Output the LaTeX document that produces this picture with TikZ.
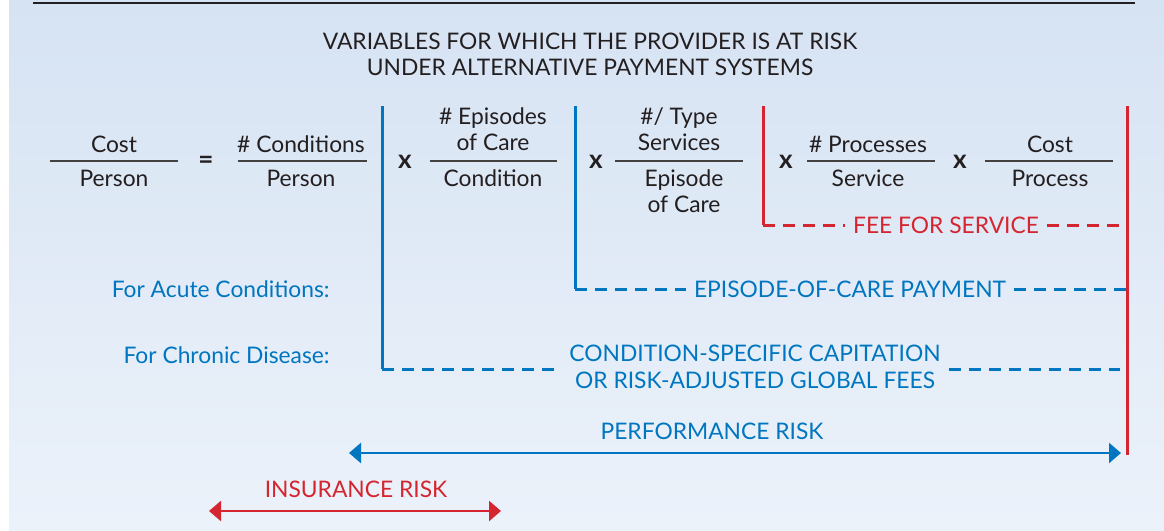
\documentclass[tikz,border=0pt]{standalone}
\usepackage{fontspec}
\setmainfont{Lato}
\usetikzlibrary{arrows.meta}

\definecolor{riskblue}{RGB}{0,118,192}
\definecolor{riskred}{RGB}{213,37,48}
\definecolor{ink}{RGB}{35,31,32}
\definecolor{paneltop}{RGB}{214,227,243}
\definecolor{panelbot}{RGB}{236,242,250}

\tikzset{
  txt/.style={font=\fontsize{11.4}{13.5}\selectfont, text=ink, inner sep=0pt},
  optxt/.style={txt, font=\fontsize{13}{13.5}\selectfont\bfseries},
  bluelab/.style={txt, text=riskblue, align=center, inner xsep=4pt},
  redlab/.style={txt, text=riskred, align=center, inner xsep=4pt},
  bar/.style={draw=ink!85, line width=1pt},
  bluerule/.style={draw=riskblue, line width=1.5pt},
  bluedash/.style={bluerule, dash pattern=on 6pt off 4pt},
  redrule/.style={draw=riskred, line width=1.5pt},
  reddash/.style={redrule, dash pattern=on 6pt off 4pt},
  riskarrow/.style={line width=1.3pt, {Triangle[length=6pt,width=10pt]}-{Triangle[length=6pt,width=10pt]}}
}

\begin{document}
\begin{tikzpicture}[x=0.5pt,y=-0.5pt]
	\useasboundingbox (0,0) rectangle (1164,531);
	\shade[top color=paneltop, bottom color=panelbot] (9,0) rectangle (1164,531);
	\draw[ink, line width=0.8pt] (33,3) -- (1135,3);
%title
	\node[txt, anchor=base] (title1) at (590,49) {VARIABLES FOR WHICH THE PROVIDER IS AT RISK};
	\node[txt, anchor=base] (title2) at (590,75) {UNDER ALTERNATIVE PAYMENT SYSTEMS};
%the product of ratios
	\node[txt, anchor=base] (costN) at (114,152) {Cost};
	\node[txt, anchor=base] (costD) at (114,186) {Person};
	\draw[bar] (50,161) -- (178,161);
	\node[optxt] (eq) at (206,162) {=};
	\node[txt, anchor=base] (condN) at (301,152) {\# Conditions};
	\node[txt, anchor=base] (condD) at (301,186) {Person};
	\draw[bar] (238,161) -- (367,161);
	\node[optxt] (times1) at (405,162) {x};
	\node[txt, anchor=base] (epiN1) at (493,124) {\# Episodes};
	\node[txt, anchor=base] (epiN2) at (493,150) {of Care};
	\node[txt, anchor=base] (epiD) at (493,186) {Condition};
	\draw[bar] (430,161) -- (557,161);
	\node[optxt] (times2) at (596,162) {x};
	\node[txt, anchor=base] (servN1) at (679,124) {\#/ Type};
	\node[txt, anchor=base] (servN2) at (679,150) {Services};
	\node[txt, anchor=base] (servD1) at (684,186) {Episode};
	\node[txt, anchor=base] (servD2) at (684,212) {of Care};
	\draw[bar] (615,161) -- (743,161);
	\node[optxt] (times3) at (786,162) {x};
	\node[txt, anchor=base] (procN) at (868,152) {\# Processes};
	\node[txt, anchor=base] (procD) at (868,186) {Service};
	\draw[bar] (807,161) -- (935,161);
	\node[optxt] (times4) at (960,162) {x};
	\node[txt, anchor=base] (pcostN) at (1050,152) {Cost};
	\node[txt, anchor=base] (pcostD) at (1050,186) {Process};
	\draw[bar] (985,161) -- (1113,161);
%payment brackets
	\coordinate (condTop) at (382,106);
	\coordinate (condCorner) at (382,369);
	\coordinate (condEnd) at (1120,369);
	\coordinate (epiTop) at (575,106);
	\coordinate (epiCorner) at (575,289);
	\coordinate (epiEnd) at (1127,289);
	\coordinate (feeTop) at (763,106);
	\coordinate (feeCorner) at (763,225);
	\coordinate (feeEnd) at (1127,225);
	\coordinate (rightTop) at (1127,106);
	\coordinate (rightBot) at (1127,455);
	\node[txt, text=riskblue, anchor=east] (acute) at (330,289) {For Acute Conditions:};
	\node[txt, text=riskblue, anchor=east] (chronic) at (330,355) {For Chronic Disease:};
	\node[redlab] (fee) at (946,225) {FEE FOR SERVICE};
	\node[bluelab] (episode) at (850,289) {EPISODE-OF-CARE PAYMENT};
	\node[bluelab] (capit) at (755,367) {CONDITION-SPECIFIC CAPITATION\\OR RISK-ADJUSTED GLOBAL FEES};
	\draw[bluerule] (condTop) -- (condCorner);
	\draw[bluedash] (condCorner) -- (capit.west |- condCorner);
	\draw[bluedash] (capit.east |- condEnd) -- (condEnd);
	\draw[bluerule] (epiTop) -- (epiCorner);
	\draw[bluedash] (epiCorner) -- (episode.west);
	\draw[bluedash] (episode.east) -- (epiEnd);
	\draw[redrule] (feeTop) -- (feeCorner);
	\draw[reddash] (feeCorner) -- (fee.west);
	\draw[reddash] (fee.east) -- (feeEnd);
	\draw[redrule] (rightTop) -- (rightBot);
%risk arrows
	\coordinate (perfL) at (349,453);
	\coordinate (perfR) at (1121,453);
	\node[txt, text=riskblue, anchor=base] (perf) at (712,439) {PERFORMANCE RISK};
	\draw[riskarrow, riskblue] (perfL) -- (perfR);
	\coordinate (insL) at (209,511);
	\coordinate (insR) at (501,511);
	\node[txt, text=riskred, anchor=base] (ins) at (356,497) {INSURANCE RISK};
	\draw[riskarrow, riskred] (insL) -- (insR);
\end{tikzpicture}
\end{document}
